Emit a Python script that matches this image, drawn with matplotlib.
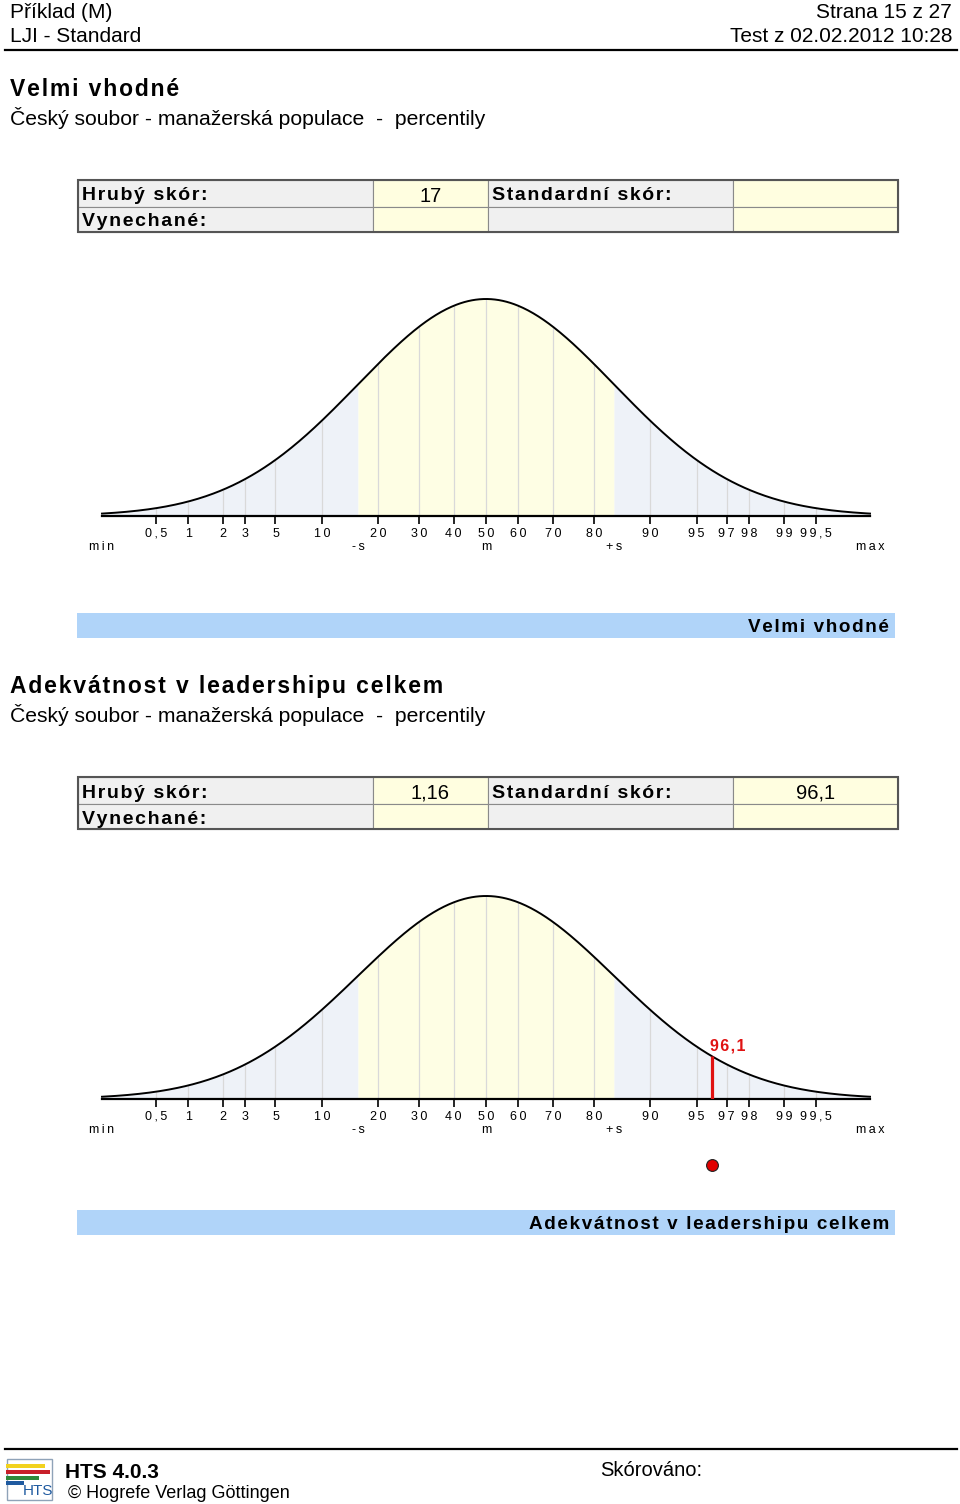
import matplotlib.pyplot as plt
from matplotlib.patches import Rectangle
from statistics import NormalDist
import numpy as np

plt.rcParams['font.family'] = ['Liberation Sans', 'DejaVu Sans']

# page header
doc_name = "Příklad (M)"
doc_norm = "LJI - Standard"
page_info = "Strana 15 z 27"
test_info = "Test z 02.02.2012 10:28"

# one entry per scale block
scale_titles = ["Velmi vhodné", "Adekvátnost v leadershipu celkem"]
norm_group = "Český soubor - manažerská populace  -  percentily"
raw_scores = ["17", "1,16"]
std_scores = ["", "96,1"]
omitted = ["", ""]
marker_pct = [None, 96.1]

# percentile axis
pct_ticks = [0.5, 1, 2, 3, 5, 10, 20, 30, 40, 50, 60, 70, 80, 90, 95, 97, 98, 99, 99.5]
pct_labels = ["0,5", "1", "2", "3", "5", "10", "20", "30", "40", "50",
              "60", "70", "80", "90", "95", "97", "98", "99", "99,5"]
sd_ticks = [-3, -1, 0, 1, 3]
sd_labels = ["min", "-s", "m", "+s", "max"]

W, H = 960, 1504
nd = NormalDist()
BLUE_FILL = '#eef2f8'
YEL_FILL = '#fefee4'
GRAY_CELL = '#f0f0f0'
YEL_CELL = '#fffee0'
BAR_BLUE = '#b0d4f9'
RED = '#e01212'


def sp(s, gap='\u200a'):
    # letter spacing like in the printed report
    return gap.join(s)


def pdf(z):
    return np.exp(-0.5 * np.asarray(z) ** 2) / np.sqrt(2 * np.pi)


fig = plt.figure(figsize=(W / 100, H / 100), dpi=100)
page = fig.add_axes([0, 0, 1, 1])
page.set_xlim(0, W)
page.set_ylim(H, 0)
page.axis('off')

# header
page.text(10, 12, doc_name, fontsize=15, va='center')
page.text(10, 36, doc_norm, fontsize=15, va='center')
page.text(952, 12, page_info, fontsize=15, va='center', ha='right')
page.text(952, 36, test_info, fontsize=15, va='center', ha='right')
page.plot([5, 957], [50, 50], color='black', lw=1.6)


def block(i, top, base, peak):
    page.text(10, top + 2, sp(scale_titles[i]), fontsize=16.5, weight='bold', va='center')
    page.text(10, top + 30, norm_group, fontsize=15.2, va='center')

    # score table
    cols = [78, 373, 488, 733, 898]
    rows = [top + 92, top + 119, top + 144]
    fills = [GRAY_CELL, YEL_CELL, GRAY_CELL, YEL_CELL]
    for r in range(2):
        for c in range(4):
            page.add_patch(Rectangle((cols[c], rows[r]), cols[c + 1] - cols[c], rows[r + 1] - rows[r],
                                     facecolor=fills[c], edgecolor='#8a8a8a', lw=0.8))
    page.add_patch(Rectangle((cols[0], rows[0]), cols[-1] - cols[0], rows[2] - rows[0],
                             facecolor='none', edgecolor='#555555', lw=1.5))
    r1 = (rows[0] + rows[1]) / 2 + 2.5
    r2 = (rows[1] + rows[2]) / 2 + 2.5
    page.text(82, r1, sp("Hrubý skór:"), fontsize=14, weight='bold', va='center')
    page.text(82, r2, sp("Vynechané:"), fontsize=14, weight='bold', va='center')
    page.text(492, r1, sp("Standardní skór:"), fontsize=14, weight='bold', va='center')
    page.text((cols[1] + cols[2]) / 2, r1, raw_scores[i], fontsize=14.5, ha='center', va='center')
    page.text((cols[1] + cols[2]) / 2, r2, omitted[i], fontsize=14.5, ha='center', va='center')
    page.text((cols[3] + cols[4]) / 2, r1, std_scores[i], fontsize=14.5, ha='center', va='center')

    # normal curve
    ax = fig.add_axes([102 / W, 1 - base / H, 768 / W, (base - peak) / H])
    ax.set_xlim(-3, 3)
    ax.set_ylim(0, float(pdf(0)))
    z = np.linspace(-3, 3, 601)
    y = pdf(z)
    ax.fill_between(z, 0, y, where=z <= -1, color=BLUE_FILL, lw=0)
    ax.fill_between(z, 0, y, where=(z >= -1) & (z <= 1), color=YEL_FILL, lw=0)
    ax.fill_between(z, 0, y, where=z >= 1, color=BLUE_FILL, lw=0)
    tz = [nd.inv_cdf(p / 100) for p in pct_ticks]
    ax.vlines(tz, 0, pdf(tz), color='#d9d9d9', lw=0.9)
    ax.plot(z, y, color='black', lw=1.4, clip_on=False)
    ax.plot([-3, 3], [0, 0], color='black', lw=1.6, clip_on=False)

    ax.set_xticks(tz, [sp(l, '\u2009') for l in pct_labels], fontsize=9)
    ax.tick_params(axis='x', length=5.5, width=1.2, pad=3, direction='out', color='black')
    ax.set_yticks([])
    for s in ax.spines.values():
        s.set_visible(False)
    ax.patch.set_alpha(0)
    for zz, lab in zip(sd_ticks, sd_labels):
        ax.annotate(sp(lab, '\u2009'), xy=(zz, 0), xycoords=ax.get_xaxis_transform(),
                    xytext=(0, -18), textcoords='offset points', ha='center', va='top',
                    fontsize=9, annotation_clip=False)

    if marker_pct[i] is not None:
        zm = nd.inv_cdf(marker_pct[i] / 100)
        ym = float(pdf(zm))
        ax.vlines(zm, 0, ym, color=RED, lw=2.3)
        ax.annotate(sp(std_scores[i]), xy=(zm, ym), xytext=(-1, 2), textcoords='offset points',
                    ha='left', va='bottom', color=RED, weight='bold', fontsize=11.5,
                    annotation_clip=False)
        ax.plot([zm], [-(66) / (base - peak)], transform=ax.get_xaxis_transform(),
                marker='o', ms=8.5, mfc='#e00000', mec='#222222', mew=0.8, clip_on=False)

    # result bar
    page.add_patch(Rectangle((77, top + 525), 818, 25, facecolor=BAR_BLUE, lw=0))
    page.text(889, top + 539.5, sp(scale_titles[i]), fontsize=13.6, weight='bold',
              ha='right', va='center')


block(0, 88, 516, 299)
block(1, 685, 1099, 896)

# footer
page.plot([5, 957], [1449, 1449], color='black', lw=1.6)
page.add_patch(Rectangle((7, 1459), 45, 41, facecolor='none', edgecolor='#8fa3b8', lw=1))
for y0, x1, col in [(1463.5, 45, '#f2d21e'), (1469.5, 50, '#c8202a'), (1475.5, 39, '#2f8a3a'),
                    (1481, 24, '#1f5aa0')]:
    page.add_patch(Rectangle((6, y0), x1 - 6, 4, facecolor=col, lw=0))
page.text(38, 1491, "HTS", fontsize=11, color='#1f5aa0', ha='center', va='center')
page.text(65, 1472, "HTS 4.0.3", fontsize=15, weight='bold', va='center')
page.text(68, 1493, "© Hogrefe Verlag Göttingen", fontsize=13, va='center')
page.text(600, 1471, "Skórováno:", fontsize=14.5, va='center')

fig.savefig('out.png', dpi=100)
